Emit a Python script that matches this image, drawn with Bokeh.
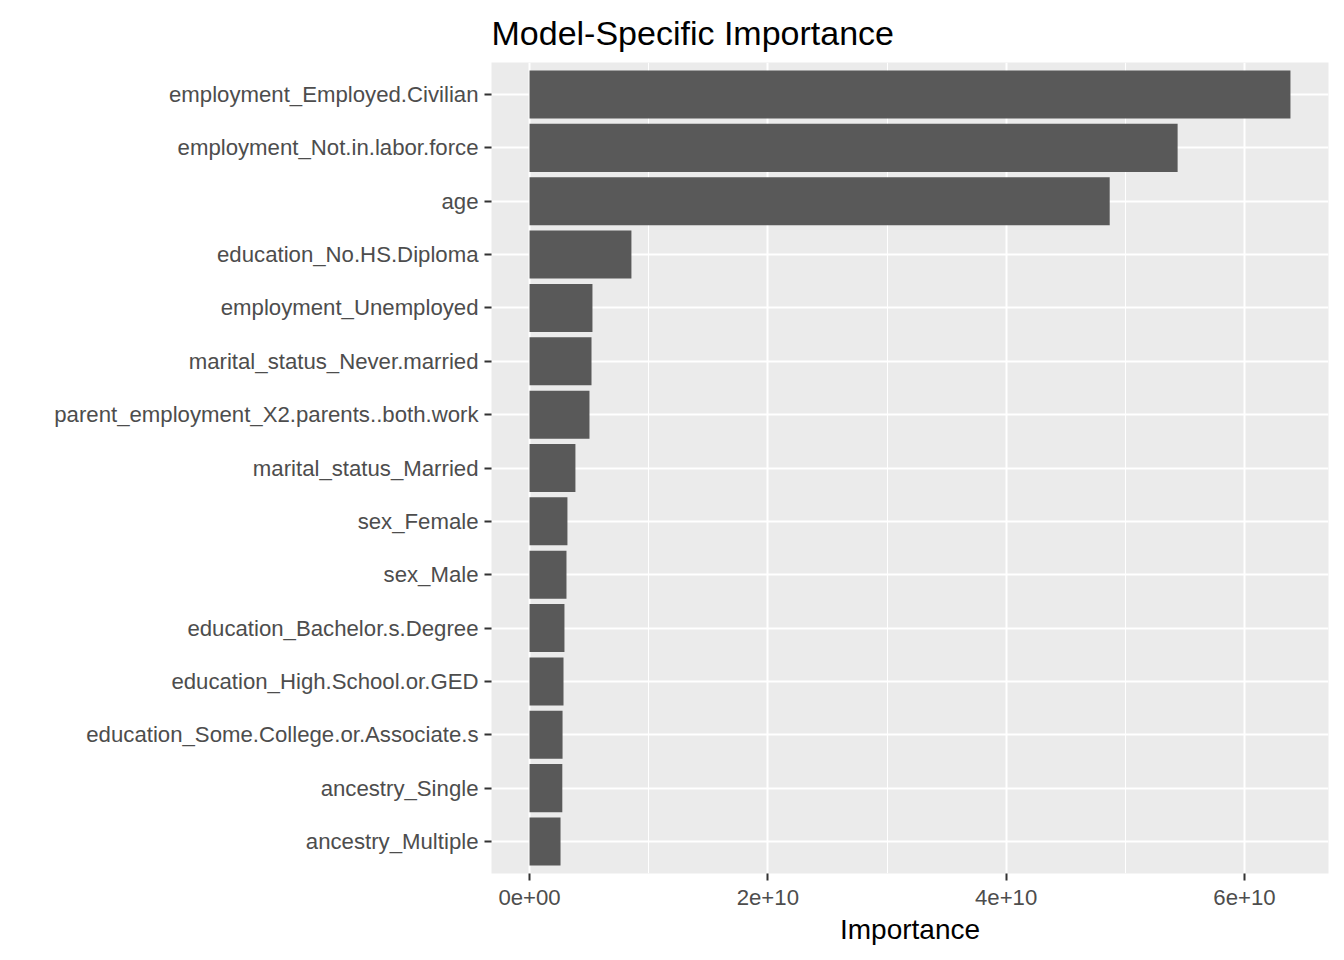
from bokeh.plotting import figure
from bokeh.models import FactorRange, Range1d, FixedTicker
from bokeh.embed import file_html
from bokeh.resources import INLINE

title_text = "Model-Specific Importance"
x_title = "Importance"
features = [
    "employment_Employed.Civilian",
    "employment_Not.in.labor.force",
    "age",
    "education_No.HS.Diploma",
    "employment_Unemployed",
    "marital_status_Never.married",
    "parent_employment_X2.parents..both.work",
    "marital_status_Married",
    "sex_Female",
    "sex_Male",
    "education_Bachelor.s.Degree",
    "education_High.School.or.GED",
    "education_Some.College.or.Associate.s",
    "ancestry_Single",
    "ancestry_Multiple",
]
importance = [
    6.386e10, 5.439e10, 4.869e10, 0.855e10, 0.528e10, 0.520e10, 0.503e10,
    0.385e10, 0.318e10, 0.310e10, 0.293e10, 0.285e10, 0.277e10, 0.275e10, 0.260e10,
]
major_ticks = [0, 2e10, 4e10, 6e10]
minor_ticks = [1e10, 3e10, 5e10]
tick_labels = ["0e+00", "2e+10", "4e+10", "6e+10"]

FONT = "Liberation Sans"
xmax = max(importance)

p = figure(
    y_range=FactorRange(factors=list(reversed(features)), range_padding=0.2 / len(features)),
    x_range=Range1d(-0.05 * xmax, 1.05 * xmax),
    frame_width=837, frame_height=811,
    min_border_left=491, min_border_right=8, min_border_top=62, min_border_bottom=79,
    output_backend="svg", toolbar_location=None,
    title=title_text,
)
p.hbar(y=features, right=importance, left=0, height=0.9, color="#595959", line_color=None)

p.background_fill_color = "#EBEBEB"
p.border_fill_color = "white"
p.outline_line_color = None

p.title.text_font = FONT
p.title.text_font_size = "34px"
p.title.text_font_style = "normal"
p.title.text_color = "black"
p.title.align = "left"
p.title.standoff = 21

p.xaxis.ticker = FixedTicker(ticks=major_ticks, minor_ticks=minor_ticks)
p.xaxis.major_label_overrides = {t: l for t, l in zip(major_ticks, tick_labels)}
p.xaxis.axis_label = x_title
p.xaxis.axis_label_text_font = FONT
p.xaxis.axis_label_text_font_size = "28px"
p.xaxis.axis_label_text_font_style = "normal"
p.xaxis.axis_label_text_color = "black"

for ax in (p.xaxis, p.yaxis):
    ax.axis_line_color = None
    ax.major_tick_line_color = "#333333"
    ax.major_tick_line_width = 2
    ax.major_tick_out = 7
    ax.major_tick_in = 0
    ax.minor_tick_line_color = None
    ax.major_label_text_font = FONT
    ax.major_label_text_font_size = "22.2px"
    ax.major_label_text_color = "#4D4D4D"
    ax.major_label_standoff = 6

p.xaxis.major_label_standoff = 9
p.xaxis.axis_label_standoff = 6

p.xgrid.grid_line_color = "white"
p.xgrid.grid_line_width = 2
p.xgrid.minor_grid_line_color = "white"
p.xgrid.minor_grid_line_width = 1
p.ygrid.grid_line_color = "white"
p.ygrid.grid_line_width = 2

open("out.html", "w").write(file_html(p, INLINE))
